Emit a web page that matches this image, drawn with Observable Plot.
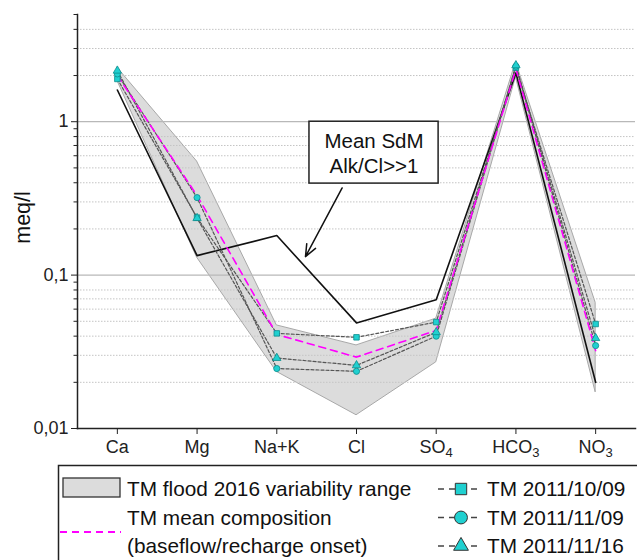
<!DOCTYPE html>
<html>
<head>
<meta charset="utf-8">
<script src="https://cdn.jsdelivr.net/npm/d3@7"></script>
<script src="https://cdn.jsdelivr.net/npm/@observablehq/plot@0.6"></script>
<style>
  html, body { margin: 0; padding: 0; background: #fff; overflow: hidden; }
  #wrap { position: relative; width: 637px; height: 560px; overflow: hidden; font-family: "Liberation Sans", Arial, sans-serif; }
  #legend { position: absolute; left: 0; top: 464px; }
</style>
</head>
<body>
<div id="wrap"><div id="chart"></div><svg id="legend" width="637" height="96"></svg></div>
<script>
// ---- data ----
const categories = ["Ca", "Mg", "Na+K", "Cl", "SO4", "HCO3", "NO3"];
const floodMin   = [1.85, 0.13, 0.0234, 0.0122, 0.027, 1.95, 0.0172];
const floodMax   = [2.25, 0.55, 0.047, 0.0348, 0.052, 2.45, 0.066];
const meanSdM    = [1.61, 0.134, 0.181, 0.0488, 0.069, 2.08, 0.020];
const tmMean     = [2.0, 0.33, 0.041, 0.0292, 0.0436, 2.2, 0.0322];
const tm20111009 = [1.9, 0.237, 0.0417, 0.0393, 0.0494, 2.25, 0.048];
const tm20111109 = [2.05, 0.32, 0.0246, 0.0236, 0.040, 2.3, 0.0347];
const tm20111116 = [2.15, 0.235, 0.0288, 0.0258, 0.0424, 2.33, 0.0388];
const majorTicks = [0.01, 0.1, 1];
const majorTickLabels = ["0,01", "0,1", "1"];
const minorTicks = [0.02,0.03,0.04,0.05,0.06,0.07,0.08,0.09,0.2,0.3,0.4,0.5,0.6,0.7,0.8,0.9,2,3,4,5];
const dottedGrid = [0.02,0.03,0.04,0.05,0.06,0.07,0.08,0.2,0.3,0.4,0.5,0.6,0.7,0.8,2,3,4];
const solidGrid = [0.1, 1];

const idx = categories.map((c, i) => i);
const flood = idx.map(i => ({i, lo: floodMin[i], hi: floodMax[i]}));
const series = (arr) => idx.map(i => ({i, v: arr[i]}));
const samples = [
  {data: series(tm20111009), symbol: "square"},
  {data: series(tm20111109), symbol: "circle"},
  {data: series(tm20111116), symbol: "triangle"}
];
const cyan = "#20d0d0", cyanStroke = "#0a8c8c";
const font = "Liberation Sans, Arial, sans-serif";

const chart = Plot.plot({
  width: 637,
  height: 464,
  marginLeft: 77,
  marginRight: 2,
  marginTop: 14,
  marginBottom: 36,
  style: {fontFamily: font, fontSize: "18px", color: "#222", background: "#fff"},
  x: {type: "linear", domain: [-0.5, categories.length - 0.5]},
  y: {type: "log", domain: [0.01, 5]},
  marks: [
    Plot.areaY(flood, {x: "i", y1: "lo", y2: "hi", fill: "#dcdcdc", stroke: "#a8a8a8", strokeWidth: 1}),
    Plot.ruleY(dottedGrid, {stroke: "#c4c4c4", strokeWidth: 1, strokeDasharray: "1.5,1.5"}),
    Plot.ruleY(solidGrid, {stroke: "#b8b8b8", strokeWidth: 1.2}),
    Plot.line(series(meanSdM), {x: "i", y: "v", stroke: "#111", strokeWidth: 1.6}),
    ...samples.map(s => Plot.line(s.data, {x: "i", y: "v", stroke: "#555", strokeWidth: 1.2, strokeDasharray: "3,2"})),
    Plot.line(series(tmMean), {x: "i", y: "v", stroke: "#ff00ff", strokeWidth: 1.6, strokeDasharray: "7,5"}),
    ...samples.map(s => Plot.dot(s.data, {x: "i", y: "v", symbol: () => s.symbol, r: 3.1, fill: cyan, stroke: cyanStroke, strokeWidth: 0.8})),
    // annotation
    Plot.arrow([0], {x1: 2.82, y1: 0.37, x2: 2.36, y2: 0.132, stroke: "#111", strokeWidth: 1.5, headLength: 13, headAngle: 45}),
    Plot.rect([0], {x1: 2.41, x2: 4.03, y1: 0.395, y2: 1.0, fill: "#fff", stroke: "#222", strokeWidth: 1.5}),
    Plot.text(["Mean SdM"], {x: 3.22, y: 0.675, fontSize: 20.5, lineAnchor: "bottom", fill: "#111"}),
    Plot.text(["Alk/Cl>>1"], {x: 3.22, y: 0.465, fontSize: 20.5, lineAnchor: "bottom", fill: "#111"}),
    // axes
    Plot.axisX({ticks: idx, tickFormat: i => categories[i], tickSize: 6, tickPadding: 6, fontSize: 18, label: null, stroke: "#222"}),
    Plot.axisY({ticks: minorTicks, tickSize: 3.5, tickFormat: () => "", label: null, stroke: "#222"}),
    Plot.axisY({ticks: majorTicks, tickSize: 6, tickPadding: 3, tickFormat: d => majorTickLabels[majorTicks.indexOf(d)], fontSize: 18, label: null, stroke: "#222"}),
    Plot.frame({anchor: "left", stroke: "#222", strokeWidth: 1.5}),
    Plot.frame({anchor: "bottom", stroke: "#222", strokeWidth: 1.5}),
    Plot.text(["meq/l"], {frameAnchor: "left", dx: -54, dy: -4, rotate: -90, textAnchor: "middle", lineAnchor: "middle", fontSize: 21.5, fill: "#111"})
  ]
});
document.getElementById("chart").appendChild(chart);

// subscripts in the ion names
d3.select(chart).selectAll("g[aria-label='x-axis tick label'] text").each(function() {
  const t = this.textContent;
  const m = t.match(/^([A-Za-z]+)(\d)$/);
  if (m) {
    const el = d3.select(this);
    el.text(null);
    el.append("tspan").text(m[1]);
    el.append("tspan").attr("dy", "0.3em").attr("font-size", "13px").text(m[2]);
  }
});

// ---- legend ----
const lg = d3.select("#legend").attr("font-family", font).attr("font-size", 20.8).attr("fill", "#111");
lg.append("rect").attr("x", 58.5).attr("y", 1.5).attr("width", 700).attr("height", 200).attr("fill", "none").attr("stroke", "#222").attr("stroke-width", 1.5);
lg.append("rect").attr("x", 63).attr("y", 14).attr("width", 57).attr("height", 19).attr("fill", "#dcdcdc").attr("stroke", "#333").attr("stroke-width", 1.3);
lg.append("text").attr("x", 127).attr("y", 32).text("TM flood 2016 variability range");
lg.append("line").attr("x1", 60).attr("x2", 121).attr("y1", 68).attr("y2", 68).attr("stroke", "#ff00ff").attr("stroke-width", 1.8).attr("stroke-dasharray", "7,5");
lg.append("text").attr("x", 127).attr("y", 61).text("TM mean composition");
lg.append("text").attr("x", 127).attr("y", 89).text("(baseflow/recharge onset)");
const legendSamples = [
  {label: "TM 2011/10/09", symbol: d3.symbolSquare, size: 130},
  {label: "TM 2011/11/09", symbol: d3.symbolCircle, size: 130},
  {label: "TM 2011/11/16", symbol: d3.symbolTriangle, size: 95}
];
legendSamples.forEach((s, k) => {
  const cy = 25 + k * 28.5;
  lg.append("line").attr("x1", 438).attr("x2", 482).attr("y1", cy).attr("y2", cy).attr("stroke", "#444").attr("stroke-width", 1.5).attr("stroke-dasharray", "6,5");
  lg.append("path").attr("transform", `translate(461,${cy})`).attr("d", d3.symbol(s.symbol, s.size)()).attr("fill", cyan).attr("stroke", "#333").attr("stroke-width", 1);
  lg.append("text").attr("x", 487).attr("y", cy + 7).text(s.label);
});
</script>
</body>
</html>
